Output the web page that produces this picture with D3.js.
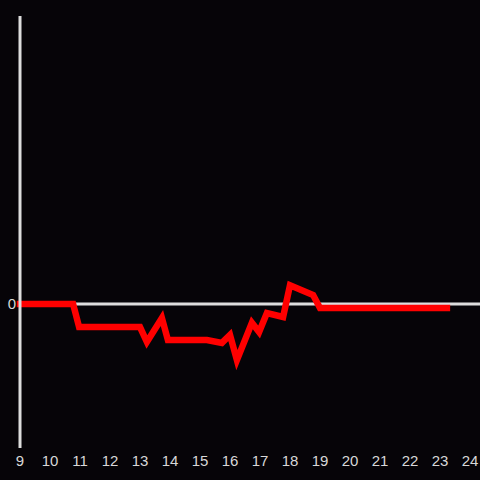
<!DOCTYPE html>
<html><head><meta charset="utf-8">
<script src="https://cdn.jsdelivr.net/npm/d3@7"></script>
<style>html,body{margin:0;padding:0;background:#060408;}svg{display:block;}</style>
</head><body>
<script>
const hours = [9, 10.77, 10.97, 13, 13.23, 13.73, 13.93, 15.23, 15.73, 16, 16.23, 16.73, 16.97, 17.23, 17.77, 18, 18.77, 19, 23.23];
const values = [0, 0, -0.16, -0.16, -0.264, -0.097, -0.25, -0.25, -0.27, -0.215, -0.39, -0.13, -0.195, -0.0625, -0.09, 0.13, 0.0625, -0.028, -0.028];
const xTicks = [9,10,11,12,13,14,15,16,17,18,19,20,21,22,23,24];
const yTicks = [0];

const W = 480, H = 480;
const svg = d3.select("body").append("svg").attr("width", W).attr("height", H);
svg.append("rect").attr("width", W).attr("height", H).attr("fill", "#060408");

const x = d3.scaleLinear().domain([9, 24]).range([20, 470]);
const y = d3.scaleLinear().domain([-1, 2]).range([448, 16]);

// zero line / x axis
svg.append("line").attr("x1", x(9)).attr("x2", 480).attr("y1", y(0)).attr("y2", y(0))
  .attr("stroke", "#dddddd").attr("stroke-width", 3);

const line = d3.line().x((d, i) => x(hours[i])).y(d => y(d));
svg.append("path").datum(values).attr("d", line)
  .attr("fill", "none").attr("stroke", "#ff0000").attr("stroke-width", 6.5)
  .attr("stroke-linecap", "square");

// y axis line
svg.append("line").attr("x1", x(9)).attr("x2", x(9)).attr("y1", y(2)).attr("y2", y(-1))
  .attr("stroke", "#dddddd").attr("stroke-width", 3);

svg.selectAll("text.xt").data(xTicks).enter().append("text")
  .attr("class", "xt").attr("x", d => x(d)).attr("y", 466)
  .attr("text-anchor", "middle").attr("fill", "#d8d8d8")
  .attr("font-family", "Liberation Sans, Arial, sans-serif").attr("font-size", 15)
  .text(d => d);
svg.selectAll("text.yt").data(yTicks).enter().append("text")
  .attr("class", "yt").attr("x", 16).attr("y", y(0)).attr("dy", "0.35em")
  .attr("text-anchor", "end").attr("fill", "#d8d8d8")
  .attr("font-family", "Liberation Sans, Arial, sans-serif").attr("font-size", 15)
  .text(d => d);
</script>
</body></html>
